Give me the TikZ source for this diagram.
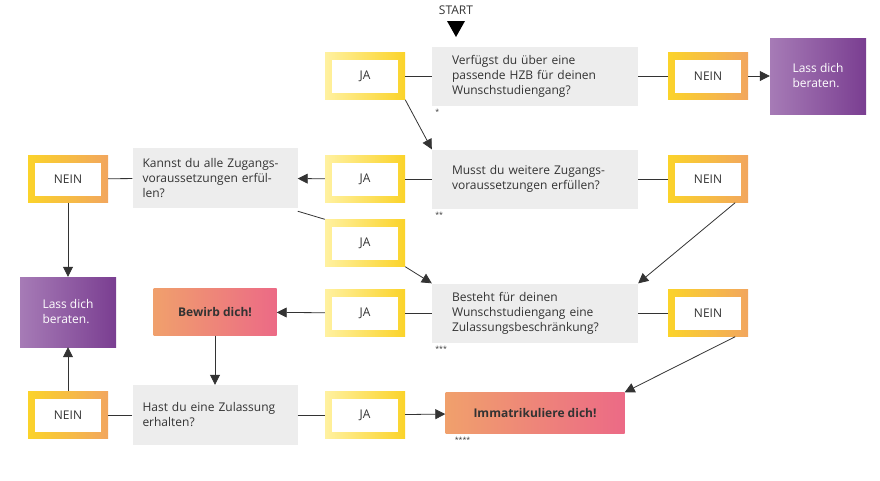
\documentclass[tikz,border=0pt]{standalone}
\usepackage{fontspec}
\setmainfont{Open Sans}
\usetikzlibrary{arrows.meta}

\definecolor{txt}{HTML}{333333}
\definecolor{qgray}{HTML}{EDEDED}
\definecolor{ylight}{HTML}{FFF1A0}
\definecolor{ydark}{HTML}{FBD32A}
\definecolor{orng}{HTML}{F2A65E}
\definecolor{plight}{HTML}{A67BB6}
\definecolor{pdark}{HTML}{7A3E91}
\definecolor{olight}{HTML}{F0A06C}
\definecolor{pink}{HTML}{EC6A86}

\tikzset{
  base/.style={font=\fontsize{12}{15}\selectfont, text=txt},
  frame/.style={base, minimum width=80pt, minimum height=47pt, inner sep=0pt,
    path picture={\fill[white] ([xshift=7pt,yshift=-7pt]path picture bounding box.north west)
      rectangle ([xshift=-7pt,yshift=7pt]path picture bounding box.south east);}},
  ja/.style={frame, left color=ylight, right color=ydark},
  nein/.style={frame, left color=ydark, right color=orng},
  quest/.style={base, fill=qgray, align=left, inner xsep=20pt, text width=166pt, minimum height=59pt},
  quests/.style={base, fill=qgray, align=left, inner xsep=10pt, text width=145pt, minimum height=60pt},
  rat/.style={base, text=white, align=left, left color=plight, right color=pdark, minimum width=96pt},
  act/.style={base, font=\fontsize{12}{15}\selectfont\bfseries, left color=olight, right color=pink, minimum height=47pt},
  note/.style={base, font=\fontsize{7}{8}\selectfont},
  line/.style={thick, draw=txt},
  arr/.style={line, -{Triangle[length=10pt,width=10pt]}}
}

\begin{document}
\begin{tikzpicture}[x=1pt,y=-1pt]
\useasboundingbox (0,0) rectangle (880,480);

% Start
\node[base] (start) at (456,10) {START};
\fill[black] (447,21) -- (465,21) -- (456,37) -- cycle;

% Row 1
\node[quest] (q1) at (535,76) {Verfügst du über eine\\passende HZB für deinen\\Wunschstudiengang?};
\node[ja] (j1) at (365,76) {JA};
\node[nein] (n1) at (708,76) {NEIN};
\node[rat, minimum height=76pt] (l1) at (818,76) {Lass dich\\beraten.};
\node[note, anchor=north west] (s1) at (q1.south west) {*};

% Row 2
\node[quest] (q2) at (535,179) {Musst du weitere Zugangs-\\voraussetzungen erfüllen?};
\node[ja] (j2) at (365,179) {JA};
\node[nein] (n2) at (708,179) {NEIN};
\node[quests] (q3) at (215,178) {Kannst du alle Zugangs-\\voraussetzungen erfül-\\len?};
\node[nein] (n3) at (68,179) {NEIN};
\node[note, anchor=north west] (s2) at (q2.south west) {**};
\node[ja] (j4) at (365,243) {JA};

% Row 3
\node[quest] (q4) at (535,313) {Besteht für deinen\\Wunschstudiengang eine\\Zulassungsbeschränkung?};
\node[ja] (j5) at (365,313) {JA};
\node[nein] (n5) at (708,313) {NEIN};
\node[act, minimum width=123pt] (bew) at (215,312) {Bewirb dich!};
\node[rat, minimum height=70pt] (l2) at (68,312) {Lass dich\\beraten.};
\node[note, anchor=north west] (s3) at (q4.south west) {***};

% Row 4
\node[quests] (q5) at (215,415) {Hast du eine Zulassung\\erhalten?};
\node[nein] (n6) at (68,415) {NEIN};
\node[ja] (j6) at (365,415) {JA};
\node[act, minimum width=179pt, minimum height=41pt] (imm) at (535,413) {Immatrikuliere dich!};
\node[note, anchor=north west] (s4) at ([xshift=6pt]imm.south west) {****};

% Connectors
\draw[line] (q1) -- (j1);
\draw[line] (q1) -- (n1);
\draw[arr] (n1) -- (l1);
\draw[arr] (j1.south east) -- (q2.north west);
\draw[line] (q2) -- (j2);
\draw[arr] (j2) -- (q3);
\draw[line] (q3) -- (n3);
\draw[arr] (n3) -- (l2);
\draw[line] (q2) -- (n2);
\draw[arr] ([xshift=-13pt]n2.south east) -- (q4.north east);
\draw[line] ([yshift=-3pt]q3.south east) -- (j4.north west);
\draw[arr] (j4.south east) -- (q4.north west);
\draw[line] (q4) -- (j5);
\draw[arr] (j5) -- (bew);
\draw[line] (q4) -- (n5);
\draw[arr] ([xshift=-13pt]n5.south east) -- (imm.north east);
\draw[arr] (bew) -- (q5);
\draw[line] (q5) -- (n6);
\draw[arr] (n6) -- (l2);
\draw[line] (q5) -- (j6);
\draw[arr] (j6) -- (imm);
\end{tikzpicture}
\end{document}
